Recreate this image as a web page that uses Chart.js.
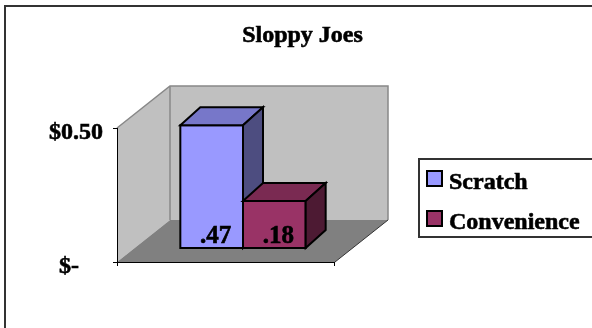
<!DOCTYPE html>
<html>
<head>
<meta charset="utf-8">
<script src="https://cdn.jsdelivr.net/npm/chart.js@4/dist/chart.umd.min.js"></script>
<style>
  html, body { margin: 0; padding: 0; background: #ffffff; }
  #wrap { width: 592px; height: 328px; position: relative; }
</style>
</head>
<body>
<div id="wrap"><canvas id="c" width="592" height="328"></canvas></div>
<script>
// ---- data ----
const chartTitle = 'Sloppy Joes';
const categories = ['Sloppy Joes'];
const seriesNames = ['Scratch', 'Convenience'];
const scratchValues = [0.47];
const convenienceValues = [0.18];
const tickValues = [0, 0.5];
const tickLabels = ['$-', '$0.50'];

// ---- styles ----
const frontColors = ['#9999ff', '#993366'];
const topColors = ['#7777c9', '#7a2a52'];
const sideColors = ['#4d4d80', '#4d1a33'];
const FAMILY = "'Liberation Serif', 'Times New Roman', serif";
const FONT = 'bold 24px ' + FAMILY;
const LABEL_FONT = 'bold 25px ' + FAMILY;

// oblique projection of the plot box
const DEPTH = { x: 53, y: -42 };      // front plane -> back wall
const BAR_FRONT = { x: 17, y: -14 };  // front plane -> bar front faces
const BAR_DEPTH = { x: 20, y: -18 };  // thickness of each bar
const BAR_SCALE = 0.975;              // slight shrink of bars set back from the front

function fmtValue(v) {
  return v.toFixed(2).replace(/^0/, '');
}

// heavy text: fill plus a hairline stroke in the same colour
function boldText(ctx, text, x, y) {
  ctx.fillText(text, x, y);
  ctx.lineWidth = 0.6;
  ctx.strokeStyle = ctx.fillStyle;
  ctx.strokeText(text, x, y);
}

function poly(ctx, pts, fill, stroke, lw) {
  ctx.beginPath();
  ctx.moveTo(pts[0][0], pts[0][1]);
  for (let i = 1; i < pts.length; i++) ctx.lineTo(pts[i][0], pts[i][1]);
  ctx.closePath();
  if (fill) { ctx.fillStyle = fill; ctx.fill(); }
  if (stroke) { ctx.strokeStyle = stroke; ctx.lineWidth = lw || 1; ctx.lineJoin = 'miter'; ctx.stroke(); }
}

const plot3d = {
  id: 'plot3d',
  beforeDatasetsDraw(chart) {
    const { ctx, chartArea: a } = chart;
    const L = a.left, R = a.right, T = a.top, B = a.bottom;
    const dx = DEPTH.x, dy = DEPTH.y;
    ctx.save();
    // outer frame of the chart
    ctx.strokeStyle = '#333333';
    ctx.lineWidth = 2;
    ctx.strokeRect(5, 6, 600, 340);

    // back wall, side wall, floor
    poly(ctx, [[L + dx, T + dy], [R + dx, T + dy], [R + dx, B + dy], [L + dx, B + dy]], '#c0c0c0');
    poly(ctx, [[L, T], [L + dx, T + dy], [L + dx, B + dy], [L, B]], '#c0c0c0');
    poly(ctx, [[L, B], [R, B], [R + dx, B + dy], [L + dx, B + dy]], '#808080');

    // wall edges
    ctx.strokeStyle = '#888888';
    ctx.lineWidth = 1.5;
    ctx.beginPath();
    ctx.moveTo(L, T); ctx.lineTo(L + dx, T + dy);
    ctx.lineTo(R + dx, T + dy); ctx.lineTo(R + dx, B + dy);
    ctx.moveTo(L + dx, T + dy); ctx.lineTo(L + dx, B + dy);
    ctx.stroke();

    // floor right edge
    ctx.strokeStyle = '#333333';
    ctx.lineWidth = 1;
    ctx.beginPath();
    ctx.moveTo(R, B); ctx.lineTo(R + dx, B + dy);
    ctx.stroke();

    // axes
    const ys = chart.scales.y;
    ctx.strokeStyle = '#000000';
    ctx.lineWidth = 1;
    ctx.beginPath();
    ctx.moveTo(L + 0.5, ys.getPixelForValue(tickValues[tickValues.length - 1]));
    ctx.lineTo(L + 0.5, B + 0.5);
    ctx.lineTo(R, B + 0.5);
    tickValues.forEach(v => {
      const y = Math.round(ys.getPixelForValue(v)) + 0.5;
      ctx.moveTo(L - 4, y); ctx.lineTo(L, y);
    });
    ctx.moveTo(L + 0.5, B); ctx.lineTo(L + 0.5, B + 4);
    ctx.moveTo(R - 0.5, B); ctx.lineTo(R - 0.5, B + 4);
    ctx.stroke();
    ctx.restore();
  },

  afterDatasetsDraw(chart) {
    const { ctx } = chart;
    ctx.save();
    chart.data.datasets.forEach((ds, i) => {
      const meta = chart.getDatasetMeta(i);
      meta.data.forEach((el, j) => {
        const p = el.getProps(['x', 'y', 'base', 'width'], true);
        const x0 = p.x - p.width / 2 + BAR_FRONT.x;
        const x1 = p.x + p.width / 2 + BAR_FRONT.x;
        const yb = p.base + BAR_FRONT.y;
        const yt = yb - (p.base - p.y) * BAR_SCALE;
        const ddx = BAR_DEPTH.x, ddy = BAR_DEPTH.y;
        poly(ctx, [[x0, yt], [x1, yt], [x1, yb], [x0, yb]], frontColors[i], '#000000', 2);
        poly(ctx, [[x0, yt], [x1, yt], [x1 + ddx, yt + ddy], [x0 + ddx, yt + ddy]], topColors[i], '#000000', 2);
        poly(ctx, [[x1, yt], [x1 + ddx, yt + ddy], [x1 + ddx, yb + ddy], [x1, yb]], sideColors[i], '#000000', 2);

        // value label at the foot of the bar
        ctx.font = LABEL_FONT;
        ctx.fillStyle = '#000000';
        ctx.textAlign = 'center';
        ctx.textBaseline = 'alphabetic';
        boldText(ctx, fmtValue(ds.data[j]), (x0 + x1) / 2 + 4, yb - 5);
      });
    });
    ctx.restore();
  },

  afterDraw(chart) {
    const { ctx, chartArea: a } = chart;
    const ys = chart.scales.y;
    ctx.save();
    ctx.font = FONT;
    ctx.fillStyle = '#000000';
    ctx.textBaseline = 'alphabetic';

    // title
    ctx.textAlign = 'center';
    boldText(ctx, chartTitle, 302.5, 42);

    // value axis labels (accounting format pads the dash by two digits)
    ctx.textAlign = 'right';
    tickValues.forEach((v, k) => {
      const y = ys.getPixelForValue(v) + 11;
      const pad = v === 0 ? ctx.measureText('00').width : 0;
      boldText(ctx, tickLabels[k], a.left - 14 - pad, y);
    });

    // legend
    ctx.strokeStyle = '#333333';
    ctx.lineWidth = 2;
    ctx.strokeRect(419, 159, 200, 78);
    chart.data.datasets.forEach((ds, i) => {
      const top = 171 + i * 40;
      ctx.fillStyle = frontColors[i];
      ctx.fillRect(427, top, 15, 15);
      ctx.strokeStyle = '#000000';
      ctx.lineWidth = 2;
      ctx.strokeRect(427, top, 15, 15);
      ctx.fillStyle = '#000000';
      ctx.textAlign = 'left';
      boldText(ctx, ds.label, 449, top + 18);
    });
    ctx.restore();
  }
};

new Chart(document.getElementById('c'), {
  type: 'bar',
  data: {
    labels: categories,
    datasets: [
      { label: seriesNames[0], data: scratchValues, backgroundColor: 'rgba(0,0,0,0)', borderWidth: 0 },
      { label: seriesNames[1], data: convenienceValues, backgroundColor: 'rgba(0,0,0,0)', borderWidth: 0 }
    ]
  },
  options: {
    responsive: false,
    animation: false,
    layout: { padding: { left: 117, right: 257, top: 128, bottom: 66 } },
    datasets: { bar: { barPercentage: 1, categoryPercentage: 0.575 } },
    scales: {
      x: { display: false },
      y: { display: false, min: 0, max: 0.5 }
    },
    plugins: {
      legend: { display: false },
      title: { display: false },
      tooltip: { enabled: false }
    }
  },
  plugins: [plot3d]
});
</script>
</body>
</html>
